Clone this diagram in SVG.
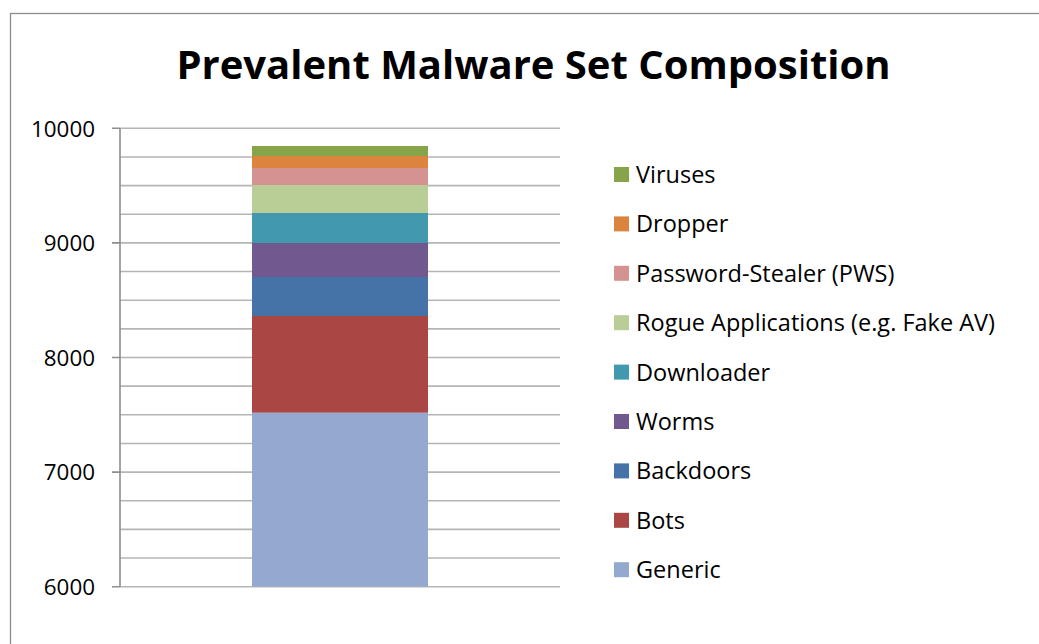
<svg xmlns="http://www.w3.org/2000/svg" width="1039" height="644" viewBox="0 0 1039 644">
  <style>
    .frame { fill: none; stroke: #8c8c8c; stroke-width: 1.3; }
    .grid { stroke: #b5b5b5; stroke-width: 1.6; fill: none; }
    .axis { stroke: #8e8e8e; stroke-width: 1.6; fill: none; }
    .title { font-family: "Open Sans", "Noto Sans", sans-serif; font-weight: bold; font-size: 40px; fill: #000; }
    .tick { font-family: "Open Sans", "Noto Sans", sans-serif; font-size: 22.4px; fill: #000; }
    .legend { font-family: "Open Sans", "Noto Sans", sans-serif; font-size: 23.5px; fill: #000; }
  </style>

  <rect x="0" y="0" width="1039" height="644" fill="#ffffff"/>
  <!-- chart frame, running past the right and bottom edges -->
  <rect class="frame" x="10.5" y="13.5" width="1060" height="660"/>

  <g id="title">
    <text class="title" x="533.5" y="79" text-anchor="middle">Prevalent Malware Set Composition</text>
  </g>

  <!-- gridlines every 250 units -->
  <g id="gridlines" class="grid">
    <path d="M120 128.3H560 M120 156.95H560 M120 185.6H560 M120 214.25H560 M120 242.9H560 M120 271.55H560 M120 300.2H560 M120 328.85H560 M120 357.5H560 M120 386.15H560 M120 414.8H560 M120 443.45H560 M120 472.1H560 M120 500.75H560 M120 529.4H560 M120 558.05H560 M120 586.7H560"/>
  </g>

  <g id="value-axis">
    <path class="axis" d="M120 128.3V586.7 M112 128.3H120 M112 242.9H120 M112 357.5H120 M112 472.1H120 M112 586.7H120"/>
    <text class="tick" x="95" y="136.5" text-anchor="end">10000</text>
    <text class="tick" x="95" y="251.1" text-anchor="end">9000</text>
    <text class="tick" x="95" y="365.7" text-anchor="end">8000</text>
    <text class="tick" x="95" y="480.3" text-anchor="end">7000</text>
    <text class="tick" x="95" y="594.9" text-anchor="end">6000</text>
  </g>

  <!-- stacked column -->
  <g id="bar">
    <rect id="bar-generic" x="252" y="412.7" width="176" height="174" fill="#93a9cf"/>
    <rect id="bar-bots" x="252" y="316" width="176" height="96.7" fill="#aa4643"/>
    <rect id="bar-backdoors" x="252" y="277" width="176" height="39" fill="#4572a7"/>
    <rect id="bar-worms" x="252" y="243" width="176" height="34" fill="#71588f"/>
    <rect id="bar-downloader" x="252" y="213" width="176" height="30" fill="#4198af"/>
    <rect id="bar-rogue" x="252" y="185" width="176" height="28" fill="#b9cd96"/>
    <rect id="bar-pws" x="252" y="168" width="176" height="17" fill="#d49391"/>
    <rect id="bar-dropper" x="252" y="156" width="176" height="12" fill="#db843d"/>
    <rect id="bar-viruses" x="252" y="146" width="176" height="10" fill="#86a44a"/>
  </g>

  <g id="legend">
    <g id="legend-viruses"><rect x="614" y="167" width="15" height="15" fill="#86a44a"/><text class="legend" x="636" y="183">Viruses</text></g>
    <g id="legend-dropper"><rect x="614" y="216.4" width="15" height="15" fill="#db843d"/><text class="legend" x="636" y="232.4">Dropper</text></g>
    <g id="legend-pws"><rect x="614" y="265.8" width="15" height="15" fill="#d49391"/><text class="legend" x="636" y="281.8">Password-Stealer (PWS)</text></g>
    <g id="legend-rogue"><rect x="614" y="315.2" width="15" height="15" fill="#b9cd96"/><text class="legend" x="636" y="331.2">Rogue Applications (e.g. Fake AV)</text></g>
    <g id="legend-downloader"><rect x="614" y="364.6" width="15" height="15" fill="#4198af"/><text class="legend" x="636" y="380.6">Downloader</text></g>
    <g id="legend-worms"><rect x="614" y="414" width="15" height="15" fill="#71588f"/><text class="legend" x="636" y="430">Worms</text></g>
    <g id="legend-backdoors"><rect x="614" y="463.4" width="15" height="15" fill="#4572a7"/><text class="legend" x="636" y="479.4">Backdoors</text></g>
    <g id="legend-bots"><rect x="614" y="512.8" width="15" height="15" fill="#aa4643"/><text class="legend" x="636" y="528.8">Bots</text></g>
    <g id="legend-generic"><rect x="614" y="562.2" width="15" height="15" fill="#93a9cf"/><text class="legend" x="636" y="578.2">Generic</text></g>
  </g>
</svg>
